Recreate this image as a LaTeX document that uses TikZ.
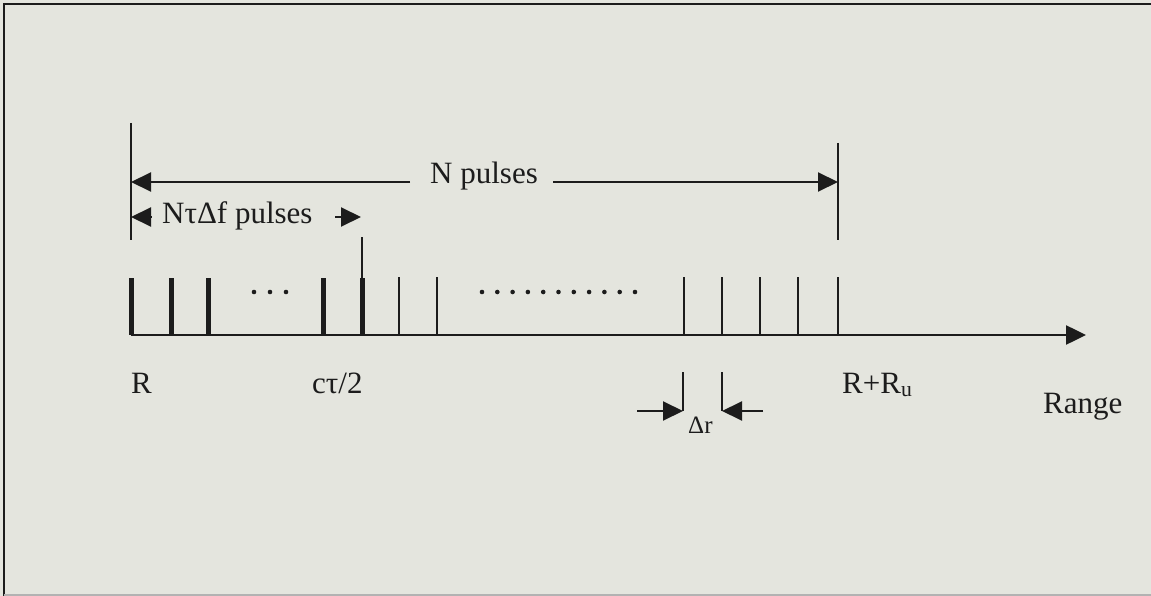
\documentclass[tikz,border=0pt]{standalone}
\usepackage{fontspec}
\setmainfont{Liberation Serif}
\usetikzlibrary{arrows.meta}
\definecolor{paper}{RGB}{228,229,222}
\definecolor{ink}{RGB}{28,28,28}
\tikzset{
  dimarrow/.style={line width=2pt,-{Triangle[length=20pt,width=19pt]}},
  thinpulse/.style={line width=2pt},
  fatpulse/.style={line width=5pt},
  lbl/.style={inner sep=0pt,anchor=base west,font=\fontsize{31}{31}\selectfont},
  smalllbl/.style={inner sep=0pt,anchor=base west,font=\fontsize{25}{25}\selectfont},
}
\begin{document}
\begin{tikzpicture}[x=1pt,y=-1pt,ink]
  \fill[paper] (0,0) rectangle (1151,596);
  \useasboundingbox (0,0) rectangle (1151,596);
  % frame
  \draw[line width=2.5pt] (4,596) -- (4,4) -- (1151,4);
  \draw[line width=1.5pt,gray!60] (4,595) -- (1151,595);

  % labels
  \node[lbl] (npulses) at (430,184) {N pulses};
  \node[lbl] (ntdf) at (162,223) {NτΔf pulses};
  \node[lbl] (lblr) at (131,393) {R};
  \node[lbl] (lblct) at (312,393) {cτ/2};
  \node[lbl] (lblrru) at (842,393) {R+R\textsubscript{u}};
  \node[lbl] (lblrange) at (1043,413) {Range};
  \node[smalllbl] (lbldr) at (688,433) {Δr};

  % axis
  \coordinate (origin) at (131,335);
  \coordinate (axisend) at (1086,335);
  \draw[dimarrow,line width=2.5pt] (origin) -- (axisend);

  % pulses
  \foreach \x in {131,171,208,323,362}
    \draw[fatpulse] (\x,278) -- (\x,335);
  \foreach \x in {399,437,684,722,760,798,838}
    \draw[thinpulse] (\x,277) -- (\x,335);
  \draw[thinpulse,line width=1.5pt] (362,237) -- (362,280);
  \foreach \x in {254,270,286}
    \fill (\x,292) circle (2.3);
  \foreach \i in {0,...,10}
    \fill (482+15.3*\i,292) circle (2.3);

  % N pulses span
  \coordinate (nl) at (131,182);
  \coordinate (nr) at (838,182);
  \coordinate (nla) at (410,182);
  \coordinate (nra) at (553,182);
  \draw[thinpulse] (131,123) -- (131,240);
  \draw[thinpulse] (838,143) -- (838,240);
  \draw[dimarrow] (nla) -- (nl);
  \draw[dimarrow] (nra) -- (nr);

  % N tau Delta f span
  \coordinate (tl) at (131,217);
  \coordinate (tla) at (151,217);
  \coordinate (tr) at (361,217);
  \coordinate (tra) at (335,217);
  \draw[dimarrow] (tla) -- (tl);
  \draw[dimarrow] (tra) -- (tr);

  % Delta r
  \coordinate (dl) at (683,411);
  \coordinate (dla) at (637,411);
  \coordinate (dr) at (722,411);
  \coordinate (dra) at (763,411);
  \draw[thinpulse] (683,372) -- (dl);
  \draw[thinpulse] (722,372) -- (dr);
  \draw[dimarrow] (dla) -- (dl);
  \draw[dimarrow] (dra) -- (dr);
\end{tikzpicture}
\end{document}
